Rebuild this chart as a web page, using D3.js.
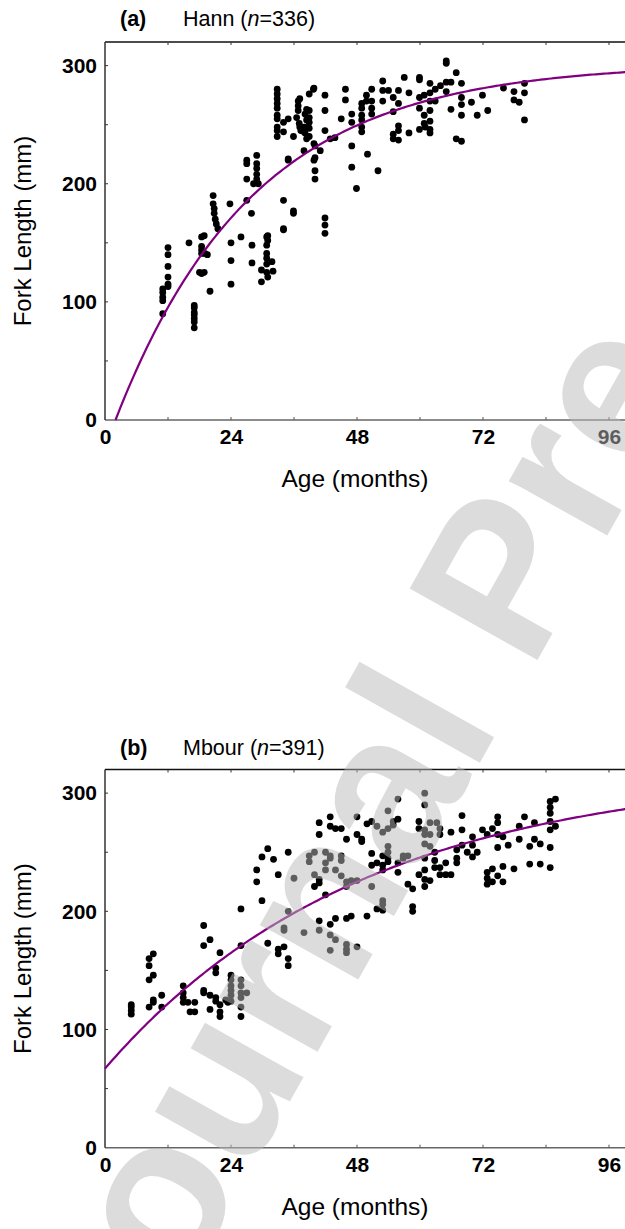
<!DOCTYPE html>
<html>
<head>
<meta charset="utf-8">
<script src="https://cdn.jsdelivr.net/npm/d3@7/dist/d3.min.js"></script>
<style>
  html, body { margin: 0; padding: 0; background: #fff; }
  svg { display: block; }
  text { font-family: "Liberation Sans", Arial, sans-serif; }
</style>
</head>
<body>
<svg id="chart" width="625" height="1229"></svg>
<script>
// Hann site: age (months) and fork length (mm)
const hannAge = [
  11,11,11,11,11, 12,12,12,12,12,12, 16,
  17,17,17,17,17,17,17, 18.4,18.4,18.4,18.4,18,18.4,19,19.5,18.9, 20,
  20.6,20.6,20.8,20.8,21,21.2,21.5, 18.9, 23.8, 24,24,24, 25.9,
  27,27,27,27,27.9, 28,28, 28.9,28.9,28.9,28.9,28.9,28.3,29.2, 29.8,29.8,
  30.8,30.8,30.8,30.8,30.8,30.8, 31,31,31, 31.8,32,
  32.8,32.8,32.8,32.8,32.8,32.8,32.8,32.8,32.8,32.8,
  34,34,34, 34,34,34.9,34.9,34.9, 35.9,35.9,35.9,
  36.5,36.8,36.8,36.8,37,37.1,37.3,37.1, 37.9,37.9,37.9,
  38.1,38.1,38.1,38.4,38.4,38.4, 38.9,38.9,38.9,38.9,38.9,38.9, 39.7,39.8,
  40,40,40,40,39.8,39.8, 41, 41.9,41.9,41.9,41.9,41.9,41.9,
  42.9,43.8,45,45.8,45.8, 47,47,47,47,47.9,
  48.9,48.9,48.9,48.9,48.9,48.9, 49.8,49.8,50, 50.8,50.8,50.8,50.8, 52,
  52.9,52.9,52.9, 54,54.9,54.9,54.9,54.9, 55.9,55.9,55.9,55.9,55.9,
  57,57.9,57.9, 59.9,59.9,59.9,59.9,59.9, 60.8,60.8,60.8,61,
  61.9,61.9,61.9,61.9,61.9,61.9,61.9, 62.9,62.9, 63.9,
  65,65,65,65, 65.9,65.9, 66.9,66.9, 67.9,67.9,67.9,67.9,67.9,
  69.8,70.9,71.9,72.9, 75.9,77.9,77.9,78.9, 79.9,79.9,79.9
];
const hannLength = [
  90,101,104,108,111, 146,140,130,121,115,113, 150,
  97,95,91,89,86,83,78, 155,147,144,141,125,124,141,140,125, 109,
  190,183,179,175,170,166,162, 156, 183, 150,135,115, 155,
  220,217,204,186,175, 148,133, 224,217,213,208,204,200,200, 127,117,
  155,148,141,137,132,125, 156,152,121, 134,126,
  280,276,272,268,264,258,255,248,245,240,
  186,162,161, 252,244,221,220,255, 177,175,240,
  256,270,266,262,251,248,245,272, 228,248,244,
  259,248,243,263,254,238, 262,256,252,247,240,276, 280,281,
  232,222,211,204,234,220, 228, 275,262,245,171,165,158,
  238,239,255,280,271, 259,252,232,214,196,
  268,264,258,254,248,244, 275,270,225, 280,270,264,259, 211,
  287,279,270, 279,273,261,242,238, 279,268,249,245,237,
  290,277,243, 290,288,273,264,246, 275,258,251,248,
  285,277,270,262,253,246,243, 280,270, 283,
  302,304,286,278, 286,263, 294,238, 285,273,267,258,236,
  269,258,275,262, 281,278,271,269, 285,277,254
];

// Mbour site: age (months) and fork length (mm)
const mbourAge = [
  5,5,5,5, 8.4,8.4,8.4,9.2,9.2,8.4,9.2,9.2, 10.8,10.8,
  14.9,14.9,14.9,14.9, 15.8,16.2,17.1,17.1, 18.8,18.8,18.8,18.8,
  20,20,20, 21.1,21.1,21.1,21.1, 21.9,21.9,21.9,21.9, 23,23.4,
  24,24,24,24,24,24, 25.9,25.9,25.9,25.9,25.9,25.9,25.9,25.9, 27,
  28.9,28.9,29.9,29.9,31,31,32.1,33,33,33,34.1,34.1,34.1,34.9,34.9,34.9,34.9,36,37.9,
  38.9,38.9,39.9,39.9,39.9, 40.8,40.8,40.8,40.8,40.8,40.8,
  42,42,42,42, 42.9,42.9,42.9,42.9,42.9,42.9,42.9, 43.9,43.9,43.9,43.9, 45,45,45,45,
  46,46,46,46,46,46,46, 46.9,46.9, 48,48,48,48, 48.9,48.9,
  49.9,49.9, 50.8,50.8,50.8,50.8, 51.8,51.8,51.8, 52.9,52.9,52.9,52.9,52.9,52.9,52.9,
  53.9,53.9,53.9,53.9,53.9,53.9, 54.9,54.9, 55.8,55.8,55.8,55.8, 56.8,56.8, 57.7,57.7,
  58.6,58.6,58.6, 59.8,59.8,59.8,
  60.9,60.9,60.9,60.9,60.9,60.9,60.9,60.9,60.9,
  61.9,61.9,61.9,61.9, 62.8,62.8,62.8,63.2,
  63.8,63.8,63.8,63.8, 64.9,64.9, 65.9,65.9, 67,67,67, 68,68,68,
  69,70,70,70,70.9,71.9, 72.8,72.8,72.8,72.8, 73.8,73.8,73.8,
  74.8,74.8,74.8,74.8,74.8, 75.8,75.8,75.8, 76.8,77.9, 78.9,78.9, 79.9, 80.9,80.9, 81.8,81.8, 82.9,82.9,
  84.8,84.8,84.8,84.8,84.8,84.8,84.8, 85.8,85.8
];
const mbourLength = [
  113,116,119,121, 160,154,142,164,146,119,125,123, 129,119,
  137,131,127,123, 123,115,123,115, 188,171,133,131,
  176,117,129, 152,148,127,124, 165,121,115,111, 125,123,
  146,142,137,133,129,124, 202,171,142,137,131,127,119,111, 131,
  235,225,209,246,253,173,244,231,164,168,170,186,184,250,200,154,160,228,182,
  247,242,221,250,231, 275,265,227,224,192,184,
  250,214,241,235, 280,272,247,245,189,180,167, 270,235,194,176, 270,247,243,230,
  261,225,221,194,168,165,172, 196,226, 280,265,226,170, 261,259,
  196,274, 276,249,239,221, 272,241,202, 267,247,239,235,201,209,206,
  255,250,245,242,270,285, 273,276, 295,278,241,233, 245,247, 223,247,
  200,204,219, 231,270,276,
  300,290,269,265,257,235,227,221,245,
  275,265,226,255, 250,243,237,275,
  237,270,265,231, 231,241, 267,231, 245,241,252, 281,269,256,
  250,263,256,246,250,269, 265,233,228,223, 236,225,270,
  280,275,254,265,230, 263,238,225, 256,236, 272,261, 280, 255,240, 275,261, 257,240,
  293,288,283,276,269,254,237, 295,272
];

// Axis tick positions
const ageTicks = [0, 24, 48, 72, 96];
const ageMinor = [12, 36, 60, 84, 108];
const lengthTicks = [0, 100, 200, 300];
const lengthMinor = [50, 150, 250];

// von Bertalanffy growth parameters [Linf, K, t0]
const hannVB = [302, 0.038, 2];
const mbourVB = [320, 0.0204, -11.5];

const panels = [
  { tag: "(a)", site: "Hann", n: 336, age: hannAge, len: hannLength, vb: hannVB, top: 42, bottom: 420, titleY: 26 },
  { tag: "(b)", site: "Mbour", n: 391, age: mbourAge, len: mbourLength, vb: mbourVB, top: 769.5, bottom: 1147.7, titleY: 755 }
];

const svg = d3.select("#chart");
const left = 105;

panels.forEach(p => {
  const x = d3.scaleLinear().domain([0, 96]).range([left, 609]);
  const y = d3.scaleLinear().domain([0, 320]).range([p.bottom, p.top]);
  const g = svg.append("g");

  // frame: top line
  g.append("line").attr("x1", left).attr("x2", 625).attr("y1", p.top).attr("y2", p.top)
    .attr("stroke", "#111").attr("stroke-width", 1.5);

  // inward ticks along the top edge
  g.selectAll(".ttick").data(ageTicks.concat(ageMinor).filter(d => d > 0)).join("line")
    .attr("x1", d => x(d)).attr("x2", d => x(d))
    .attr("y1", p.top).attr("y2", p.top + 3)
    .attr("stroke", "#333").attr("stroke-width", 1);

  // bottom axis
  const xAxis = d3.axisBottom(x).tickValues(ageTicks).tickSizeInner(0).tickSizeOuter(0).tickPadding(9);
  const gx = g.append("g").attr("transform", `translate(0,${p.bottom})`).call(xAxis);
  gx.select(".domain").remove();
  gx.selectAll("text").attr("font-size", 21).attr("font-weight", "bold").attr("fill", "#000")
    .attr("font-family", "Liberation Sans, Arial, sans-serif");
  g.append("line").attr("x1", left).attr("x2", 625).attr("y1", p.bottom).attr("y2", p.bottom)
    .attr("stroke", "#666").attr("stroke-width", 1.6);
  g.selectAll(".btick").data(ageTicks.concat(ageMinor).filter(d => d > 0)).join("line")
    .attr("x1", d => x(d)).attr("x2", d => x(d))
    .attr("y1", p.bottom).attr("y2", p.bottom - 3)
    .attr("stroke", "#555").attr("stroke-width", 1);

  // left axis
  const yAxis = d3.axisLeft(y).tickValues(lengthTicks).tickSizeInner(0).tickSizeOuter(0).tickPadding(8);
  const gy = g.append("g").attr("transform", `translate(${left},0)`).call(yAxis);
  gy.select(".domain").remove();
  gy.selectAll("text").attr("font-size", 21).attr("font-weight", "bold").attr("fill", "#000")
    .attr("font-family", "Liberation Sans, Arial, sans-serif");
  g.append("line").attr("x1", left).attr("x2", left).attr("y1", p.top).attr("y2", p.bottom)
    .attr("stroke", "#333").attr("stroke-width", 1.5);
  g.selectAll(".ltick").data(lengthTicks.concat(lengthMinor).filter(d => d > 0)).join("line")
    .attr("x1", left).attr("x2", left + 3)
    .attr("y1", d => y(d)).attr("y2", d => y(d))
    .attr("stroke", "#333").attr("stroke-width", 1);

  // axis titles
  g.append("text").attr("x", 355).attr("y", p.bottom + 67).attr("text-anchor", "middle")
    .attr("font-size", 24.5).attr("fill", "#000").text("Age (months)");
  g.append("text").attr("transform", `translate(31,${(p.top + p.bottom) / 2}) rotate(-90)`)
    .attr("text-anchor", "middle").attr("font-size", 24).attr("fill", "#000").text("Fork Length (mm)");

  // panel heading
  g.append("text").attr("x", 120).attr("y", p.titleY).attr("font-size", 21.5)
    .attr("font-weight", "bold").attr("fill", "#000").text(p.tag);
  const h = g.append("text").attr("x", 183).attr("y", p.titleY).attr("font-size", 21.5).attr("fill", "#000");
  h.append("tspan").text(p.site + " (");
  h.append("tspan").attr("font-style", "italic").text("n");
  h.append("tspan").text("=" + p.n + ")");

  // observations
  g.append("g").selectAll("circle").data(p.age.map((a, i) => [a, p.len[i]])).join("circle")
    .attr("cx", d => x(d[0])).attr("cy", d => y(d[1])).attr("r", 3.4).attr("fill", "#000");

  // fitted growth curve
  const [Linf, K, t0] = p.vb;
  const tStart = Math.max(0, t0);
  const pts = d3.range(tStart, 104.01, 0.5).map(t => [t, Linf * (1 - Math.exp(-K * (t - t0)))]);
  g.append("path").datum(pts)
    .attr("d", d3.line().x(d => x(d[0])).y(d => y(d[1])))
    .attr("fill", "none").attr("stroke", "#800080").attr("stroke-width", 2.2);
});

// diagonal press-status overlay
svg.append("text")
  .attr("transform", "translate(125,1395) rotate(-60.7)")
  .attr("font-family", "Liberation Serif, Times New Roman, serif")
  .attr("font-weight", "bold")
  .attr("font-size", 213)
  .attr("fill", "rgb(185,185,185)")
  .attr("fill-opacity", 0.5)
  .text("Journal Pre-proof");
</script>
</body>
</html>
